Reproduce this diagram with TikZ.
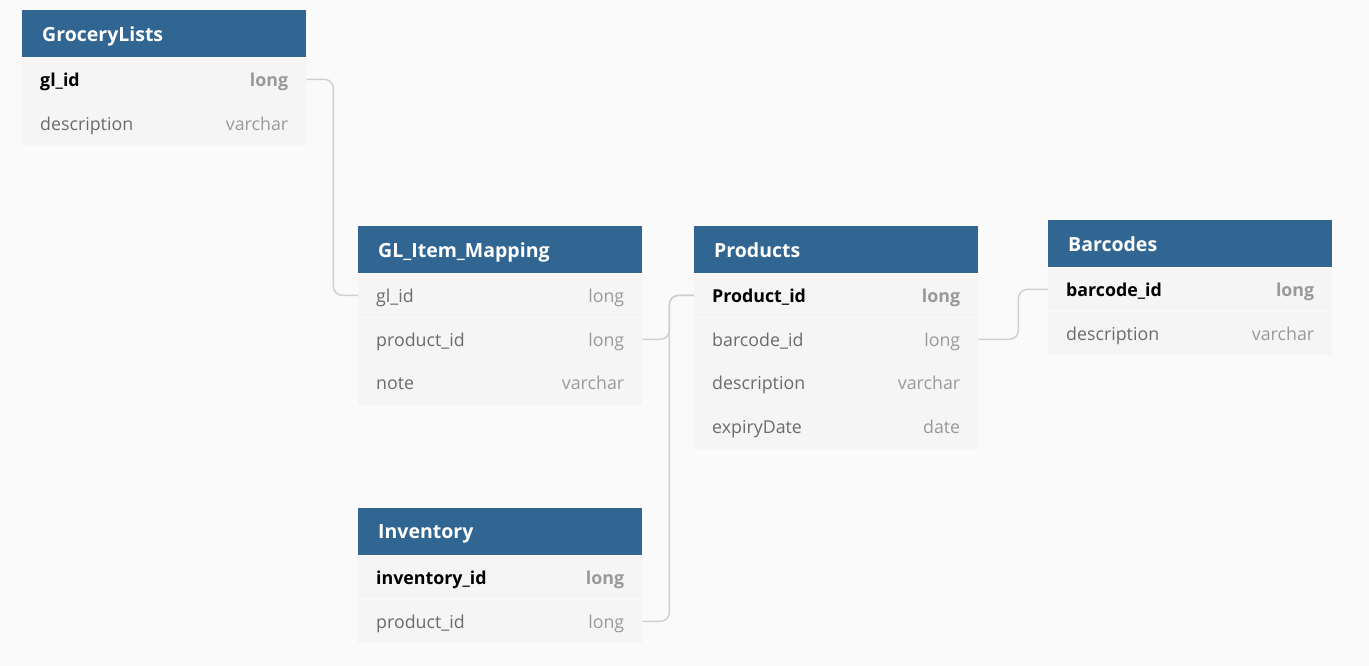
\documentclass[tikz,border=0pt]{standalone}
\usepackage{fontspec}
\setmainfont{Open Sans}
\usepackage{tikz}
\usetikzlibrary{positioning}
\definecolor{hdrblue}{HTML}{316592}
\definecolor{rowbg}{HTML}{F5F5F5}
\definecolor{pagebg}{HTML}{FAFAFA}
\definecolor{namegray}{HTML}{6B6B6B}
\definecolor{typgray}{HTML}{9A9A9A}
\definecolor{linkgray}{HTML}{D0D0D0}
\newcommand{\keyrow}[2]{\textbf{#1}\hfill{\color{typgray}\textbf{#2}}}
\newcommand{\colrow}[2]{{\color{namegray}#1}\hfill{\color{typgray}#2}}
\tikzset{hdr/.style={fill=hdrblue, text=white, font=\bfseries\fontsize{19.5}{23}\selectfont, text width=244pt, inner xsep=20pt, inner ysep=0pt, minimum height=47pt, text depth=0pt, align=left}}
\tikzset{row/.style={fill=rowbg, font=\fontsize{17.8}{21}\selectfont, text width=248pt, minimum width=284pt, inner sep=0pt, minimum height=43.5pt, text depth=0pt, align=left}}
\tikzset{link/.style={draw=linkgray, line width=1.5pt, rounded corners=9pt}}

\begin{document}
\begin{tikzpicture}[x=1pt, y=-1pt]
        \fill [pagebg] (0,0) rectangle (1369,666);
        \useasboundingbox (0,0) rectangle (1369,666);
        %
        \node [hdr, anchor=north west] at (22,10)     (gl)       {GroceryLists};
        \node [row, below=0pt of gl]                  (gl-id)    {\keyrow{gl\_id}{long}};
        \node [row, below=0pt of gl-id]               (gl-desc)  {\colrow{description}{varchar}};
        %
        \node [hdr, anchor=north west] at (358,226)   (glm)      {GL\_Item\_Mapping};
        \node [row, below=0pt of glm]                 (glm-gl)   {\colrow{gl\_id}{long}};
        \node [row, below=0pt of glm-gl]              (glm-prod) {\colrow{product\_id}{long}};
        \node [row, below=0pt of glm-prod]            (glm-note) {\colrow{note}{varchar}};
        %
        \node [hdr, anchor=north west] at (694,226)   (pr)       {Products};
        \node [row, below=0pt of pr]                  (pr-id)    {\keyrow{Product\_id}{long}};
        \node [row, below=0pt of pr-id]               (pr-bc)    {\colrow{barcode\_id}{long}};
        \node [row, below=0pt of pr-bc]               (pr-desc)  {\colrow{description}{varchar}};
        \node [row, below=0pt of pr-desc]             (pr-exp)   {\colrow{expiryDate}{date}};
        %
        \node [hdr, anchor=north west] at (1048,220)  (bc)       {Barcodes};
        \node [row, below=0pt of bc]                  (bc-id)    {\keyrow{barcode\_id}{long}};
        \node [row, below=0pt of bc-id]               (bc-desc)  {\colrow{description}{varchar}};
        %
        \node [hdr, anchor=north west] at (358,508)   (inv)      {Inventory};
        \node [row, below=0pt of inv]                 (inv-id)   {\keyrow{inventory\_id}{long}};
        \node [row, below=0pt of inv-id]              (inv-prod) {\colrow{product\_id}{long}};
        %
        \path [link] (gl-id.east) -- ++(27,0) |-      (glm-gl.west);
        \path [link] (glm-prod.east) -- ++(27,0) |-   (pr-id.west);
        \path [link] (inv-prod.east) -- ++(27,0) |-   (pr-id.west);
        \path [link] (pr-bc.east) -- ++(40,0) |-      (bc-id.west);
    \end{tikzpicture}
\end{document}
